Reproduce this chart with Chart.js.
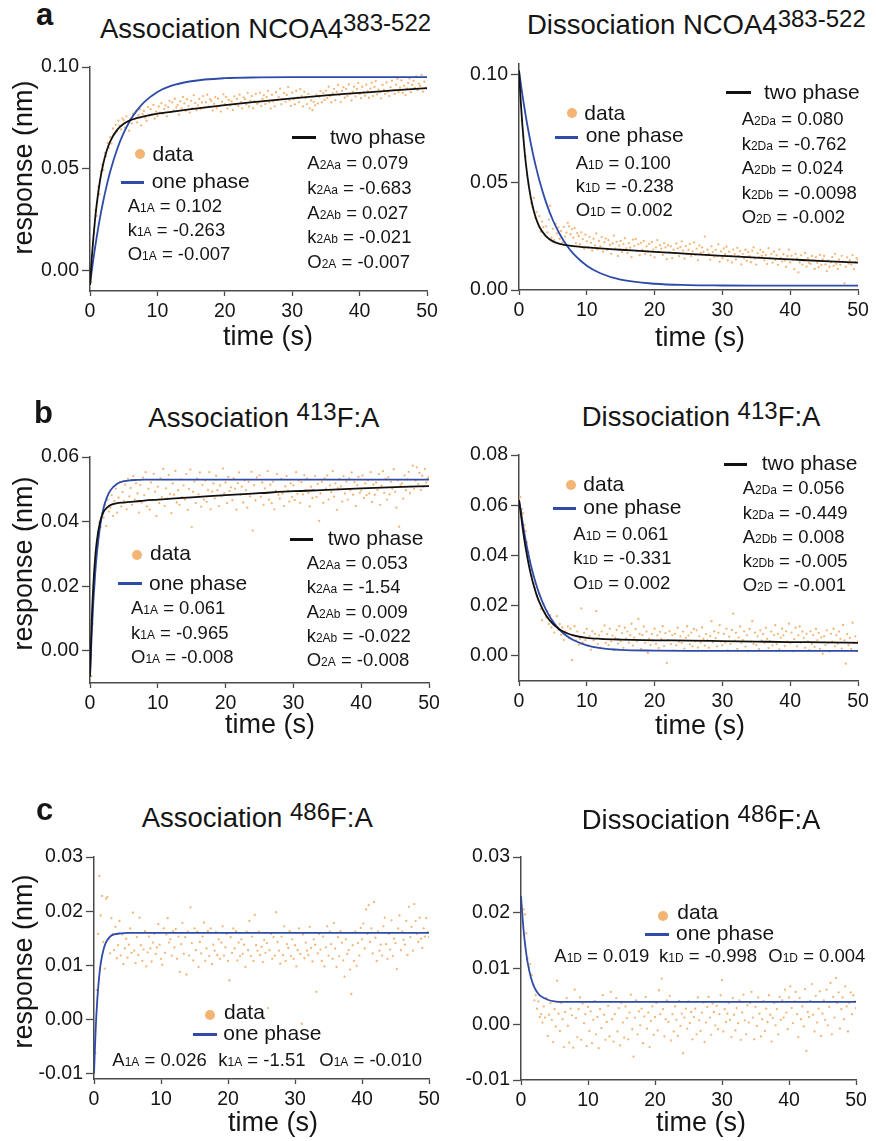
<!DOCTYPE html>
<html><head><meta charset="utf-8">
<script src="https://cdn.jsdelivr.net/npm/chart.js@4.4.1/dist/chart.umd.min.js"></script>
<style>
html,body{margin:0;padding:0;background:#fff}
body{width:876px;height:1141px;position:relative;overflow:hidden;font-family:"Liberation Sans",Arial,sans-serif;color:#151515}
.t{position:absolute;white-space:nowrap;line-height:1}
.sup{position:relative;top:-7px;font-size:24px}
.sb{font-size:12px}
canvas{position:absolute}
.dot{position:absolute;border-radius:50%;background:#F4B574}
.ln{position:absolute;height:3px}
</style></head><body>
<script>
// ---------- DATA ----------
const xTicks = [0, 10, 20, 30, 40, 50];
const yTicksAL = [0, 0.05, 0.10];
const yTicksAR = [0, 0.05, 0.10];
const yTicksBL = [0, 0.02, 0.04, 0.06];
const yTicksBR = [0, 0.02, 0.04, 0.06, 0.08];
const yTicksCL = [-0.01, 0, 0.01, 0.02, 0.03];
const yTicksCR = [-0.01, 0, 0.01, 0.02, 0.03];

// measurement times (s)
const sampleTimes = [
0,.2,.4,.6,.8, 1,1.2,1.4,1.6,1.8, 2,2.2,2.4,2.6,2.8, 3,3.2,3.4,3.6,3.8, 4,4.2,4.4,4.6,4.8,
5,5.2,5.4,5.6,5.8, 6,6.2,6.4,6.6,6.8, 7,7.2,7.4,7.6,7.8, 8,8.2,8.4,8.6,8.8, 9,9.2,9.4,9.6,9.8,
10,10.2,10.4,10.6,10.8, 11,11.2,11.4,11.6,11.8, 12,12.2,12.4,12.6,12.8, 13,13.2,13.4,13.6,13.8, 14,14.2,14.4,14.6,14.8,
15,15.2,15.4,15.6,15.8, 16,16.2,16.4,16.6,16.8, 17,17.2,17.4,17.6,17.8, 18,18.2,18.4,18.6,18.8, 19,19.2,19.4,19.6,19.8,
20,20.2,20.4,20.6,20.8, 21,21.2,21.4,21.6,21.8, 22,22.2,22.4,22.6,22.8, 23,23.2,23.4,23.6,23.8, 24,24.2,24.4,24.6,24.8,
25,25.2,25.4,25.6,25.8, 26,26.2,26.4,26.6,26.8, 27,27.2,27.4,27.6,27.8, 28,28.2,28.4,28.6,28.8, 29,29.2,29.4,29.6,29.8,
30,30.2,30.4,30.6,30.8, 31,31.2,31.4,31.6,31.8, 32,32.2,32.4,32.6,32.8, 33,33.2,33.4,33.6,33.8, 34,34.2,34.4,34.6,34.8,
35,35.2,35.4,35.6,35.8, 36,36.2,36.4,36.6,36.8, 37,37.2,37.4,37.6,37.8, 38,38.2,38.4,38.6,38.8, 39,39.2,39.4,39.6,39.8,
40,40.2,40.4,40.6,40.8, 41,41.2,41.4,41.6,41.8, 42,42.2,42.4,42.6,42.8, 43,43.2,43.4,43.6,43.8, 44,44.2,44.4,44.6,44.8,
45,45.2,45.4,45.6,45.8, 46,46.2,46.4,46.6,46.8, 47,47.2,47.4,47.6,47.8, 48,48.2,48.4,48.6,48.8, 49,49.2,49.4,49.6,49.8,
50];

// measured responses (nm)
const dataAssocNCOA4 = [
-.0042,-.0057,.0046,.0183,.0297, .0268,.0413,.0376,.0487,.0521, .0494,.0578,.0562,.0627,.0603, .0655,.0624,.0698,.0671,.0716, .0684,.0737,.0712,.0693,.0748,
.0739,.0702,.0758,.0731,.0687, .0746,.0723,.0771,.0744,.0783, .0728,.0764,.0792,.0713,.0769, .0784,.0751,.0736,.0803,.0762, .0793,.0768,.0814,.0747,.0781,
.0759,.0806,.0776,.0823,.0771, .0794,.0812,.0758,.0803,.0834, .0778,.0826,.0787,.0844,.0801, .0813,.0766,.0832,.0797,.0853, .0821,.0785,.0842,.0808,.0776,
.0834,.0797,.0861,.0823,.0788, .0812,.0843,.0794,.0826,.0857, .0801,.0827,.0864,.0806,.0842, .0833,.0786,.0819,.0852,.0798, .0844,.0808,.0781,.0829,.0866,
.0817,.0853,.0796,.0838,.0812, .0831,.0789,.0856,.0817,.0843, .0809,.0864,.0828,.0797,.0851, .0842,.0816,.0873,.0806,.0834, .0857,.0798,.0832,.0868,.0819,
.0826,.0874,.0808,.0843,.0861, .0818,.0852,.0883,.0827,.0796, .0864,.0831,.0807,.0876,.0838, .0853,.0894,.0817,.0842,.0872, .0829,.0863,.0902,.0837,.0809,
.0874,.0842,.0816,.0883,.0851, .0828,.0891,.0857,.0806,.0879, .0847,.0818,.0868,.0797,.0836, .0788,.0829,.0812,.0863,.0821, .0854,.0882,.0826,.0873,.0839,
.0884,.0847,.0903,.0858,.0826, .0871,.0893,.0837,.0879,.0912, .0862,.0828,.0883,.0901,.0849, .0893,.0858,.0914,.0867,.0836, .0878,.0904,.0856,.0892,.0921,
.0868,.0847,.0903,.0876,.0859, .0913,.0882,.0849,.0894,.0923, .0857,.0902,.0931,.0866,.0889, .0877,.0846,.0912,.0888,.0868, .0924,.0879,.0857,.0901,.0933,
.0886,.0868,.0913,.0942,.0877, .0898,.0934,.0873,.0908,.0862, .0894,.0921,.0943,.0876,.0912, .0932,.0897,.0954,.0886,.0918, .0907,.0961,.0879,.0928,.0897,
.0893];
const dataDissocNCOA4 = [
.1012,.0893,.0788,.0714,.0657, .0621,.0534,.0492,.0457,.0403, .0384,.0428,.0334,.0362,.0309, .0343,.0271,.0318,.0292,.0254, .0296,.0268,.0327,.0391,.0243,
.0284,.0232,.0307,.0263,.0291, .0238,.0274,.0221,.0293,.0248, .0267,.0312,.0296,.0259,.0283, .0243,.0287,.0218,.0264,.0251, .0213,.0268,.0236,.0192,.0257,
.0226,.0198,.0247,.0219,.0184, .0238,.0207,.0263,.0189,.0228, .0203,.0246,.0178,.0221,.0239, .0187,.0232,.0209,.0168,.0216, .0253,.0192,.0224,.0158,.0206,
.0228,.0176,.0213,.0241,.0193, .0172,.0218,.0197,.0153,.0234, .0204,.0237,.0181,.0213,.0162, .0219,.0186,.0228,.0168,.0203, .0179,.0214,.0161,.0223,.0188,
.0152,.0197,.0232,.0177,.0208, .0192,.0163,.0217,.0198,.0143, .0208,.0176,.0203,.0148,.0187, .0171,.0216,.0193,.0157,.0199, .0226,.0183,.0146,.0204,.0168,
.0187,.0213,.0158,.0179,.0221, .0163,.0192,.0138,.0207,.0172, .0198,.0177,.0248,.0162,.0187, .0169,.0141,.0203,.0176,.0153, .0186,.0158,.0212,.0131,.0179,
.0148,.0193,.0166,.0201,.0137, .0178,.0157,.0128,.0188,.0167, .0142,.0196,.0158,.0181,.0119, .0168,.0147,.0187,.0136,.0176, .0157,.0129,.0182,.0198,.0146,
.0118,.0171,.0152,.0186,.0158, .0176,.0138,.0162,.0121,.0194, .0148,.0167,.0127,.0178,.0139, .0161,.0117,.0188,.0149,.0132, .0166,.0137,.0108,.0158,.0187,
.0128,.0159,.0141,.0097,.0168, .0146,.0082,.0128,.0161,.0118, .0137,.0172,.0109,.0148,.0126, .0121,.0158,.0138,.0098,.0153, .0127,.0106,.0163,.0117,.0142,
.0158,.0119,.0088,.0137,.0108, .0129,.0153,.0112,.0168,.0121, .0098,.0141,.0117,.0159,.0132, .0031,.0108,.0152,.0123,.0138, .0118,.0162,.0097,.0131,.0148,
.0141];
const dataAssoc413 = [
-.0047,-.0079,.0083,.0212,.0304, .0328,.0362,.0397,.0383,.0427, .0412,.0453,.0386,.0468,.0431, .0443,.0482,.0417,.0463,.0502, .0428,.0474,.0523,.0447,.0491,
.0463,.0514,.0438,.0532,.0478, .0504,.0452,.0541,.0468,.0519, .0487,.0428,.0513,.0459,.0536, .0482,.0553,.0447,.0502,.0437, .0521,.0466,.0548,.0493,.0417,
.0508,.0457,.0534,.0476,.0563, .0448,.0503,.0471,.0544,.0486, .0426,.0518,.0483,.0557,.0459, .0497,.0452,.0531,.0476,.0512, .0468,.0547,.0436,.0501,.0561,
.0383,.0492,.0524,.0457,.0533, .0484,.0552,.0446,.0513,.0468, .0527,.0461,.0498,.0553,.0438, .0493,.0518,.0472,.0542,.0497, .0448,.0512,.0479,.0564,.0487,
.0521,.0457,.0538,.0494,.0506, .0466,.0534,.0502,.0437,.0519, .0552,.0483,.0508,.0459,.0528, .0497,.0443,.0523,.0478,.0554, .0372,.0513,.0466,.0537,.0488,
.0543,.0477,.0521,.0452,.0503, .0488,.0556,.0468,.0514,.0457, .0524,.0438,.0496,.0547,.0483, .0471,.0532,.0487,.0448,.0509, .0541,.0496,.0462,.0518,.0476,
.0512,.0467,.0553,.0486,.0527, .0458,.0522,.0484,.0544,.0497, .0533,.0489,.0447,.0508,.0473, .0498,.0541,.0476,.0517,.0402, .0487,.0523,.0458,.0534,.0502,
.0543,.0468,.0512,.0491,.0556, .0477,.0518,.0436,.0503,.0532, .0509,.0462,.0541,.0487,.0524, .0468,.0534,.0497,.0552,.0483, .0522,.0448,.0513,.0538,.0489,
.0496,.0543,.0473,.0518,.0482, .0528,.0487,.0553,.0461,.0514, .0483,.0521,.0498,.0547,.0452, .0511,.0556,.0489,.0532,.0468, .0537,.0484,.0523,.0502,.0562,
.0492,.0443,.0528,.0384,.0512, .0518,.0471,.0543,.0497,.0531, .0554,.0488,.0509,.0573,.0502, .0527,.0568,.0516,.0551,.0498, .0542,.0508,.0563,.0521,.0534,
.0538];
const dataDissoc413 = [
.0618,.0632,.0584,.0568,.0521, .0497,.0452,.0413,.0378,.0342, .0318,.0287,.0271,.0238,.0224, .0246,.0187,.0142,.0208,.0169, .0153,.0178,.0127,.0162,.0113,
.0138,.0093,.0122,.0158,.0104, .0127,.0084,.0113,.0063,.0098, .0092,.0117,.0071,.0108,-.0017, .0083,.0118,.0061,.0097,.0044, .0068,.0189,.0053,.0092,.0063,
.0107,.0042,.0079,.0024,.0098, .0062,.0088,.0178,.0047,.0082, .0033,.0097,.0068,.0121,.0052, .0087,.0043,.0108,.0058,.0081, .0023,.0072,.0103,.0049,.0118,
.0058,.0091,.0032,.0112,.0069, .0097,.0053,.0082,.0128,.0041, .0073,.0107,.0058,.0147,.0088, .0028,.0083,.0117,.0052,.0097, .0012,.0068,.0043,.0087,.0062,
.0108,.0048,.0082,.0031,.0096, .0067,.0118,.0039,.0091,-.0028, .0063,.0098,.0047,.0083,.0021, .0088,.0042,.0112,.0057,.0078, .0052,.0097,.0029,.0072,.0118,
.0081,.0046,.0093,.0038,.0107, .0058,.0102,.0033,.0078,.0053, .0113,.0068,.0041,.0087,.0062, .0032,.0079,.0138,.0054,.0098, .0071,.0038,.0092,.0122,.0057,
.0042,.0088,.0053,.0108,.0022, .0077,.0048,.0103,.0168,.0061, .0092,.0028,.0073,.0117,.0052, .0063,.0098,.0037,.0082,.0018, .0107,.0057,.0138,.0048,.0093,
.0043,.0078,.0027,.0102,.0061, .0087,.0052,.0112,.0068,.0031, .0058,.0097,.0042,.0083,.0122, .0047,.0088,.0026,.0073,.0108, .0082,.0039,.0098,.0057,.0128,
.0051,.0093,.0018,.0067,.0112, .0038,.0082,.0117,.0053,.0097, .0072,.0032,.0088,.0058,.0023, .0098,.0047,.0083,.0036,.0107, .0062,.0092,.0028,.0074,.0009,
.0078,.0043,.0102,.0052,.0017, .0088,.0057,.0108,.0038,.0082, .0048,.0097,.0068,.0029,.0123, .0062,-.0031,.0087,.0043,.0072, .0027,.0132,.0053,.0078,.0019,
.0058];
const dataAssoc486 = [
-.0091,-.0062,.0054,.0158,.0265, .0192,.0228,.0143,.0094,.0223, .0226,.0148,.0122,.0187,.0158, .0128,.0171,.0113,.0137,.0182, .0118,.0157,.0102,.0131,.0149,
.0114,.0138,.0168,.0123,.0197, .0127,.0104,.0152,.0119,.0188, .0137,.0108,.0129,.0163,.0098, .0124,.0153,.0131,.0107,.0142, .0158,.0121,.0133,.0176,.0138,
.0112,.0101,.0168,.0123,.0157, .0187,.0142,.0148,.0118,.0163, .0133,.0167,.0112,.0153,.0088, .0139,.0178,.0121,.0152,.0083, .0162,.0118,.0207,.0141,.0109,
.0168,.0128,.0162,.0097,.0143, .0122,.0153,.0179,.0108,.0131, .0163,.0117,.0168,.0102,.0138, .0127,.0161,.0119,.0148,.0112, .0142,.0172,.0118,.0133,.0158,
.0108,.0072,.0152,.0123,.0168, .0131,.0163,.0109,.0142,.0117, .0148,.0121,.0138,.0097,.0162, .0128,.0182,.0117,.0153,.0108, .0193,.0137,.0127,.0162,.0119,
.0134,.0106,.0147,.0123,.0141, .0021,.0128,.0158,.0112,.0152, .0118,.0198,.0143,.0127,.0103, .0153,.0119,.0172,.0108,.0139, .0132,.0163,.0117,.0148,.0112,
.0137,.0098,.0128,.0168,.0121, -.0008,.0157,.0113,.0142,.0127, .0119,.0171,.0132,.0107,.0148, .0138,.0051,.0122,.0158,.0129, .0108,.0153,.0098,.0133,.0172,
.0118,.0162,.0139,.0112,.0178, .0131,.0097,.0152,.0117,.0163, .0142,.0109,.0079,.0148,.0121, .0128,.0092,.0047,.0137,.0108, .0162,.0099,.0141,.0118,.0169,
.0148,.0177,.0131,.0203,.0158, .0211,.0143,.0168,.0122,.0217, .0151,.0108,.0162,.0127,.0138, .0118,.0172,.0188,.0139,.0112, .0158,.0129,.0183,.0117,.0149,
.0141,.0093,.0168,.0192,.0128, .0162,.0147,.0138,.0182,.0119, .0208,.0152,.0171,.0127,.0213, .0182,.0158,.0143,.0188,.0149, .0132,.0168,.0153,.0187,.0161,
.0152];
const dataDissoc486 = [
.0227,.0198,.0206,.0197,.0163, .0118,.0102,.0108,.0088,.0071, .0043,.0052,.0028,.0041,.0013, .0018,.0003,.0032,.0012,.0047, -.0021,.0017,.0038,.0008,-.0032,
.0027,-.0004,.0078,.0019,-.0012, .0038,.0009,-.0041,.0022,.0047, -.0003,-.0033,.0028,.0016,-.0042, .0062,.0011,-.0023,.0027,.0048, -.0028,.0037,.0002,.0018,-.0039,
.0031,-.0012,.0023,-.0034,.0008, .0042,-.0018,.0013,-.0043,.0027, -.0007,.0052,.0017,-.0028,.0004, .0033,-.0022,.0058,.0009,-.0031, .0018,.0047,-.0013,.0029,-.0038,
.0038,.0003,-.0024,.0032,.0011, -.0027,.0021,.0053,-.0009,-.0058, .0012,.0043,-.0018,.0023,-.0002, .0028,-.0034,.0014,.0049,-.0008, .0021,-.0041,.0006,.0032,-.0019,
.0013,.0038,-.0011,.0061,.0018, .0082,.0027,-.0022,.0009,.0043, .0004,.0051,-.0029,.0018,-.0013, .0032,.0008,-.0021,.0042,-.0003, .0019,-.0052,.0012,.0028,-.0008,
.0041,.0002,.0022,-.0027,.0013, .0028,-.0018,.0048,.0007,-.0012, .0021,.0039,-.0032,.0003,.0031, .0049,.0012,-.0019,.0037,.0022, -.0002,.0033,-.0009,.0018,.0052,
.0079,-.0013,.0027,.0004,.0019, .0038,.0008,-.0023,.0047,.0017, -.0011,.0029,.0002,.0043,-.0028, .0021,.0053,.0007,-.0018,.0034, .0003,.0038,.0058,.0012,-.0027,
.0031,-.0003,.0048,.0019,-.0022, .0009,.0042,-.0012,.0028,.0004, .0052,.0017,-.0031,.0011,.0038, -.0002,.0027,-.0018,.0049,.0008, .0043,.0012,.0062,.0021,-.0009,
.0048,.0068,.0029,.0002,.0041, .0058,.0018,-.0023,.0047,.0009, .0032,-.0004,.0063,-.0048,.0022, .0013,.0042,.0072,.0017,-.0013, .0051,.0003,.0028,.0059,-.0021,
.0019,.0043,.0008,.0062,-.0002, .0031,.0074,-.0018,.0049,.0012, .0083,.0038,.0057,-.0008,.0027, .0048,.0009,.0068,.0032,-.0013, .0038,.0057,.0018,.0052,.0041,
.0029];

// fitted curves (s, nm)
const fitTimes = [0,.25,.5,.75,1,1.5,2,2.5,3,4,5,6,7,8,10,12,15,20,25,30,35,40,45,50];
const onePhaseAssocNCOA4 = [-.007,-.0005,.0056,.0113,.0166,.0263,.0347,.0421,.0487,.0594,.0676,.0740,.0788,.0826,.0877,.0907,.0930,.0945,.0949,.0950,.0950,.0950,.0950,.0950];
const twoPhaseAssocNCOA4 = [-.007,.0056,.0161,.0251,.0327,.0445,.0530,.0591,.0635,.0690,.0721,.0739,.0750,.0758,.0771,.0780,.0793,.0813,.0830,.0846,.0861,.0873,.0885,.0896];
const onePhaseDissocNCOA4 = [.102,.0962,.0908,.0857,.0808,.0720,.0641,.0572,.0510,.0406,.0324,.0260,.0209,.0169,.0113,.0078,.0048,.0029,.0023,.0021,.0020,.0020,.0020,.0020];
const twoPhaseDissocNCOA4 = [.102,.0880,.0765,.0670,.0591,.0472,.0390,.0333,.0294,.0249,.0226,.0214,.0208,.0204,.0198,.0193,.0187,.0177,.0168,.0159,.0150,.0142,.0134,.0127];
const onePhaseAssoc413 = [-.008,.0051,.0154,.0234,.0298,.0387,.0442,.0475,.0496,.0517,.0525,.0528,.0529,.0530,.0530,.0530,.0530,.0530,.0530,.0530,.0530,.0530,.0530,.0530];
const twoPhaseAssoc413 = [-.008,.0090,.0206,.0285,.0338,.0400,.0430,.0443,.0451,.0457,.0459,.0461,.0463,.0465,.0468,.0471,.0475,.0482,.0488,.0494,.0498,.0503,.0507,.0510];
const onePhaseDissoc413 = [.062,.0582,.0537,.0496,.0458,.0391,.0335,.0287,.0246,.0182,.0137,.0104,.0080,.0063,.0042,.0031,.0024,.0021,.0020,.0020,.0020,.0020,.0020,.0020];
const twoPhaseDissoc413 = [.062,.0571,.0517,.0470,.0427,.0355,.0297,.0251,.0214,.0161,.0127,.0105,.0091,.0082,.0072,.0068,.0065,.0062,.0061,.0059,.0057,.0055,.0054,.0052];
const onePhaseAssoc486 = [-.010,-.0018,.0038,.0076,.0103,.0133,.0147,.0154,.0157,.0159,.0160,.0160,.0160,.0160,.0160,.0160,.0160,.0160,.0160,.0160,.0160,.0160,.0160,.0160];
const onePhaseDissoc486 = [.023,.0188,.0155,.0130,.0110,.0083,.0066,.0056,.0050,.0044,.0041,.0040,.0040,.0040,.0040,.0040,.0040,.0040,.0040,.0040,.0040,.0040,.0040,.0040];

const xTitle = 'time (s)';
const yTitle = 'response (nm)';
const legendData = 'data', legendOne = 'one phase', legendTwo = 'two phase';

// ---------- STYLE ----------
const ORANGE = '#F4B574', BLUE = '#2E4BA8', BLACK = '#111111', AXIS = '#4a4a4a';
const FONT = '"Liberation Sans", Arial, sans-serif';

function pts(xs, ys){ return xs.map((x,i)=>({x:x, y:ys[i]})); }

function makePanel(p){
  const YW = 70, XH = 48, PT = 16, PR = 24;
  const w = Math.round(p.x1 - p.x0), h = Math.round(p.yBot - p.yTop);
  const cv = document.createElement('canvas');
  const W = YW + w + PR, H = PT + h + XH;
  cv.width = W; cv.height = H;
  cv.style.width = W + 'px'; cv.style.height = H + 'px';
  cv.style.left = (Math.round(p.x0) - YW) + 'px';
  cv.style.top = (Math.round(p.yTop) - PT) + 'px';
  document.body.appendChild(cv);
  const ds = [{
    type:'line', label:legendData, data: pts(sampleTimes, p.data), showLine:false,
    pointRadius:1.15, pointBackgroundColor:ORANGE, pointBorderWidth:0, order:3
  },{
    type:'line', label:legendOne, data: pts(fitTimes, p.one), borderColor:BLUE, borderWidth:1.8,
    pointRadius:0, fill:false, cubicInterpolationMode:'monotone', order:2
  }];
  if (p.two) ds.push({
    type:'line', label:legendTwo, data: pts(fitTimes, p.two), borderColor:BLACK, borderWidth:1.8,
    pointRadius:0, fill:false, cubicInterpolationMode:'monotone', order:1
  });
  const tickFont = {family:FONT, size:19.5};
  const chart = new Chart(cv, {
    type:'line',
    data:{datasets:ds},
    options:{
      responsive:false, animation:false, devicePixelRatio:1,
      layout:{padding:{left:0, top:PT, right:PR, bottom:0}},
      plugins:{legend:{display:false}, tooltip:{enabled:false}, title:{display:false}},
      scales:{
        x:{type:'linear', min:0, max:50,
          afterBuildTicks:s=>{ s.ticks = xTicks.map(v=>({value:v})); },
          afterFit:s=>{ s.height = XH; },
          ticks:{callback:v=>String(v), font:tickFont, color:'#151515', padding:4, maxRotation:0, autoSkip:false},
          grid:{display:true, drawOnChartArea:false, drawTicks:true, tickLength:5, tickColor:AXIS, tickWidth:1.3},
          border:{display:true, color:AXIS, width:1.5}},
        y:{type:'linear', min:p.ymin, max:p.ymax,
          afterBuildTicks:s=>{ s.ticks = p.yTicks.map(v=>({value:v})); },
          afterFit:s=>{ s.width = YW; },
          ticks:{callback:v=>Number(v).toFixed(2), font:tickFont, color:'#151515', padding:3, autoSkip:false},
          grid:{display:true, drawOnChartArea:false, drawTicks:true, tickLength:8, tickColor:AXIS, tickWidth:1.3},
          border:{display:true, color:AXIS, width:1.5}}
      }
    }
  });
  const ca = chart.chartArea;
  cv.style.left = (Math.round(p.x0) - Math.round(ca.left)) + 'px';
  cv.style.top = (Math.round(p.yTop) - Math.round(ca.top)) + 'px';
}

const panels = [
  {x0:89.5, x1:426.7, yTop:66.7, yBot:291, ymin:-0.01, ymax:0.10, yTicks:yTicksAL, data:dataAssocNCOA4, one:onePhaseAssocNCOA4, two:twoPhaseAssocNCOA4},
  {x0:519.3, x1:858.3, yTop:64.3, yBot:290, ymin:0, ymax:0.105, yTicks:yTicksAR, data:dataDissocNCOA4, one:onePhaseDissocNCOA4, two:twoPhaseDissocNCOA4},
  {x0:90, x1:429, yTop:456.7, yBot:682.5, ymin:-0.01, ymax:0.06, yTicks:yTicksBL, data:dataAssoc413, one:onePhaseAssoc413, two:twoPhaseAssoc413},
  {x0:518.7, x1:857.7, yTop:455, yBot:680.7, ymin:-0.01, ymax:0.08, yTicks:yTicksBR, data:dataDissoc413, one:onePhaseDissoc413, two:twoPhaseDissoc413},
  {x0:94.3, x1:429, yTop:856.7, yBot:1079, ymin:-0.011, ymax:0.03, yTicks:yTicksCL, data:dataAssoc486, one:onePhaseAssoc486},
  {x0:521, x1:856, yTop:857.3, yBot:1080, ymin:-0.01, ymax:0.03, yTicks:yTicksCR, data:dataDissoc486, one:onePhaseDissoc486}
];
panels.forEach(makePanel);

// ---------- TEXT ----------
function put(html, x, base, size, weight){
  const d = document.createElement('div');
  d.className = 't';
  d.style.left = x + 'px';
  d.style.top = (base - 0.8465*size) + 'px';
  d.style.fontSize = size + 'px';
  if (weight) d.style.fontWeight = weight;
  d.innerHTML = html;
  document.body.appendChild(d);
}
function centered(text, cx, base, size){
  const d = document.createElement('div');
  d.className = 't';
  d.style.left = (cx - 150) + 'px'; d.style.width = '300px'; d.style.textAlign = 'center';
  d.style.top = (base - 0.8465*size) + 'px';
  d.style.fontSize = size + 'px';
  d.textContent = text;
  document.body.appendChild(d);
}
function vlabel(text, cx, cy, size){
  const d = document.createElement('div');
  d.className = 't';
  d.style.fontSize = size + 'px';
  d.style.width = '260px'; d.style.height = size + 'px'; d.style.textAlign = 'center';
  d.style.left = (cx - 130) + 'px'; d.style.top = (cy - size/2) + 'px';
  d.style.transform = 'rotate(-90deg)';
  d.textContent = text;
  document.body.appendChild(d);
}
function dot(cx, cy){
  const d = document.createElement('div'); d.className = 'dot';
  d.style.left = (cx-5)+'px'; d.style.top = (cy-5)+'px'; d.style.width='10px'; d.style.height='10px';
  document.body.appendChild(d);
}
function seg(x1, x2, y, color){
  const d = document.createElement('div'); d.className = 'ln';
  d.style.left = x1+'px'; d.style.width = (x2-x1)+'px'; d.style.top = (y-1.5)+'px'; d.style.background = color;
  document.body.appendChild(d);
}
function par(sym, sub, val){ return sym + '<span class="sb">' + sub + '</span> = ' + val; }

const PS = 18.5; // parameter text size

// panel letters
put('a', 36, 25, 31, 'bold');
put('b', 34, 423, 31, 'bold');
put('c', 36, 820, 31, 'bold');

// titles
put('Association NCOA4<span class="sup">383-522</span>', 100, 38, 27.5);
put('Dissociation NCOA4<span class="sup">383-522</span>', 527, 34.3, 27.5);
put('Association <span class="sup">413</span>F:A', 148.3, 427.3, 27.5);
put('Dissociation <span class="sup">413</span>F:A', 581.7, 426.7, 27.5);
put('Association <span class="sup">486</span>F:A', 141.7, 827.3, 27.5);
put('Dissociation <span class="sup">486</span>F:A', 581.7, 828.8, 27.5);

// axis titles
vlabel(yTitle, 23, 167.5, 27);
vlabel(yTitle, 23, 563, 27);
vlabel(yTitle, 23, 961, 27);
centered(xTitle, 268, 345.5, 27);
centered(xTitle, 700, 346.4, 27);
centered(xTitle, 270, 734, 27);
centered(xTitle, 700, 734.7, 27);
centered(xTitle, 273, 1131.5, 27);
centered(xTitle, 701, 1132, 27);

// panel a left legend
dot(140, 154); put(legendData, 152.5, 160.5, 21);
seg(120.7, 144, 182.7, BLUE); put(legendOne, 151.7, 188, 21);
put(par('A','1A','0.102'), 127.7, 212.7, PS);
put(par('k','1A','-0.263'), 127.7, 236.7, PS);
put(par('O','1A','-0.007'), 127.7, 260.7, PS);
seg(292, 315.7, 137.7, BLACK); put(legendTwo, 330, 144, 21);
put(par('A','2Aa','0.079'), 307.3, 170, PS);
put(par('k','2Aa','-0.683'), 307.3, 194.3, PS);
put(par('A','2Ab','0.027'), 307.3, 219.3, PS);
put(par('k','2Ab','-0.021'), 307.3, 243.3, PS);
put(par('O','2A','-0.007'), 307.3, 268.3, PS);

// panel a right legend
dot(571.7, 113.3); put(legendData, 584.3, 119.3, 21);
seg(555, 578.3, 137.3, BLUE); put(legendOne, 585.7, 141.7, 21);
put(par('A','1D','0.100'), 575.7, 169.3, PS);
put(par('k','1D','-0.238'), 575.7, 192.7, PS);
put(par('O','1D','0.002'), 575.7, 216.7, PS);
seg(726, 750.7, 92.3, BLACK); put(legendTwo, 764, 98.3, 21);
put(par('A','2Da','0.080'), 741.7, 126, PS);
put(par('k','2Da','-0.762'), 741.7, 150.7, PS);
put(par('A','2Db','0.024'), 741.7, 175, PS);
put(par('k','2Db','-0.0098'), 741.7, 199.3, PS);
put(par('O','2D','-0.002'), 741.7, 223.3, PS);

// panel b left legend
dot(136.7, 555); put(legendData, 150, 560, 21);
seg(118.3, 142.3, 583.3, BLUE); put(legendOne, 149, 589.3, 21);
put(par('A','1A','0.061'), 131, 615, PS);
put(par('k','1A','-0.965'), 131, 639.3, PS);
put(par('O','1A','-0.008'), 131, 664, PS);
seg(290, 313.3, 539.3, BLACK); put(legendTwo, 327.7, 545, 21);
put(par('A','2Aa','0.053'), 306.7, 570, PS);
put(par('k','2Aa','-1.54'), 306.7, 594, PS);
put(par('A','2Ab','0.009'), 306.7, 618.3, PS);
put(par('k','2Ab','-0.022'), 306.7, 642.3, PS);
put(par('O','2A','-0.008'), 306.7, 666.7, PS);

// panel b right legend
dot(570.7, 485); put(legendData, 583.3, 491, 21);
seg(552.7, 576, 508.3, BLUE); put(legendOne, 583.3, 514, 21);
put(par('A','1D','0.061'), 573.3, 540.7, PS);
put(par('k','1D','-0.331'), 573.3, 565, PS);
put(par('O','1D','0.002'), 573.3, 589.3, PS);
seg(724, 747.3, 464, BLACK); put(legendTwo, 761.7, 470, 21);
put(par('A','2Da','0.056'), 742.7, 495, PS);
put(par('k','2Da','-0.449'), 742.7, 519.3, PS);
put(par('A','2Db','0.008'), 742.7, 543.3, PS);
put(par('k','2Db','-0.005'), 742.7, 567.7, PS);
put(par('O','2D','-0.001'), 742.7, 591.7, PS);

// panel c left legend
dot(210, 1015); put(legendData, 224, 1018.3, 21);
seg(192.7, 216.7, 1034, BLUE); put(legendOne, 223.3, 1039.3, 21);
put(par('A','1A','0.026'), 112.3, 1066.7, PS);
put(par('k','1A','-1.51'), 218.3, 1066.7, PS);
put(par('O','1A','-0.010'), 319.3, 1066.7, PS);

// panel c right legend
dot(662.7, 916); put(legendData, 677.3, 918.3, 21);
seg(645, 669.3, 934.3, BLUE); put(legendOne, 676, 940, 21);
put(par('A','1D','0.019'), 554.3, 962.7, PS);
put(par('k','1D','-0.998'), 659, 962.7, PS);
put(par('O','1D','0.004'), 768.3, 962.7, PS);
</script>
</body></html>
